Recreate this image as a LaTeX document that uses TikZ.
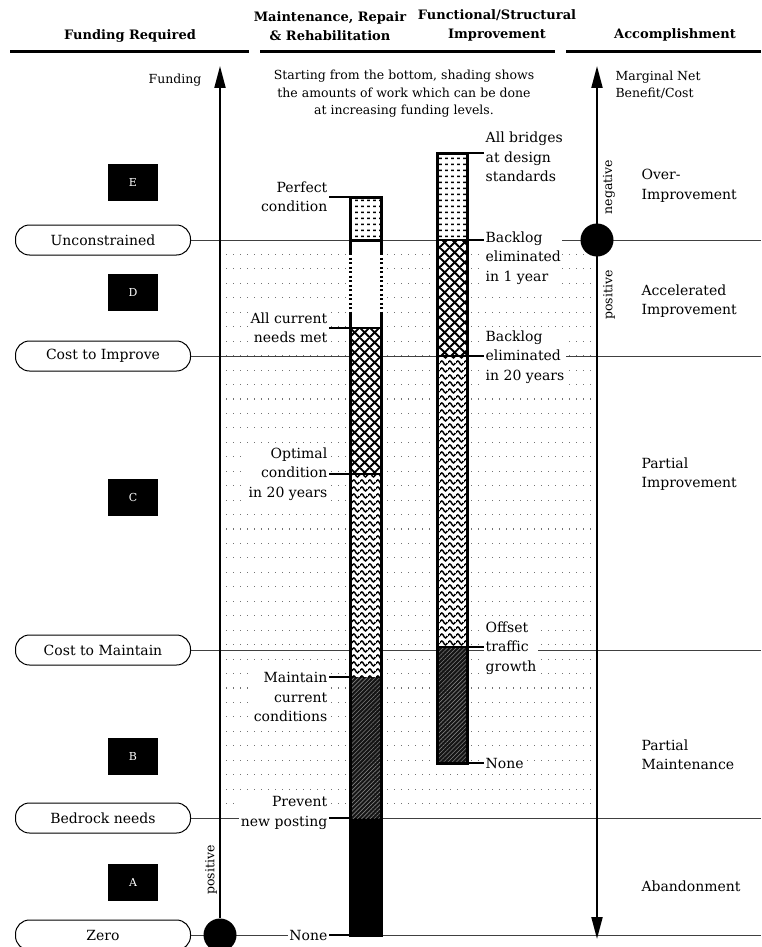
\documentclass[tikz,border=0pt]{standalone}
\usepackage{fontspec}
\setmainfont{DejaVu Serif}
\usetikzlibrary{calc, positioning}
\usetikzlibrary{arrows.meta}
\usetikzlibrary{patterns, patterns.meta}

\newcommand\lbfont{\fontsize{14}{19.5}\selectfont}
\newcommand\smfont{\fontsize{12.5}{17.5}\selectfont}
\newcommand\hdfont{\fontsize{13}{19}\selectfont\bfseries}

\tikzdeclarepattern{
  name=wavy,
  type=uncolored,
  bottom left={(0pt,0pt)},
  top right={(8pt,7pt)},
  tile size={(8pt,7pt)},
  code={
    \draw[line width=1.6pt] (0pt,3.5pt) sin (2pt,5.8pt) cos (4pt,3.5pt) sin (6pt,1.2pt) cos (8pt,3.5pt);
  }
}
\tikzdeclarepattern{
  name=xhatch,
  type=uncolored,
  bottom left={(0pt,0pt)},
  top right={(10pt,10pt)},
  tile size={(10pt,10pt)},
  code={
    \draw[line width=2pt] (-1pt,-1pt) -- (11pt,11pt) (-1pt,11pt) -- (11pt,-1pt);
  }
}
\tikzdeclarepattern{
  name=bardots,
  type=uncolored,
  bottom left={(0pt,0pt)},
  top right={(6pt,6pt)},
  tile size={(6pt,6pt)},
  code={
    \fill (1.4pt,2.2pt) rectangle (4.4pt,3.8pt);
  }
}

\tikzset{
  >={Triangle[length=22pt,width=11pt]},
  rule/.style={line width=3pt},
  level/.style={black!75, line width=1pt},
  grid/.style={black!55, line width=1.1pt, dash pattern=on 1.1pt off 5.9pt},
  pill/.style={draw, rounded corners=14pt, minimum width=175pt, minimum height=30pt, font=\lbfont, fill=white, line width=1pt},
  lvl/.style={fill=black, text=white, minimum width=50pt, minimum height=37pt, font=\fontsize{11}{12}\selectfont},
  dot/.style={circle, fill=black, minimum size=33pt, inner sep=0pt},
  axis/.style={line width=2pt},
  lbl/.style={font=\lbfont, fill=white, inner sep=1.5pt},
  side/.style={font=\lbfont, align=left, anchor=west},
  bar/.style={line width=3pt},
  lead/.style={line width=2.5pt},
  dotf/.style={preaction={fill=white}, pattern=bardots},
  xh/.style={preaction={fill=white}, pattern=xhatch},
  wav/.style={preaction={fill=white}, pattern=wavy},
  darkh/.style={fill=black!92, postaction={pattern={Lines[angle=45,distance=3pt,line width=0.6pt]}, pattern color=black!50}}
}

\begin{document}
\begin{tikzpicture}[x=1pt, y=-1pt, line join=miter]
\useasboundingbox (0,0) rectangle (761,947);
\def\ax{350}
\def\bx{381}
\def\cx{437}
\def\dx{467}

\node[font=\hdfont] (hfund) at (130,36) {Funding Required};
\node[font=\hdfont, align=center] (hmrr) at (330,26) {Maintenance, Repair\\\& Rehabilitation};
\node[font=\hdfont, align=center] (hfsi) at (497,25) {Functional/Structural\\Improvement};
\node[font=\hdfont] (hacc) at (675,35) {Accomplishment};
\draw[rule] (10,52) -- (249,52);
\draw[rule] (260,52) -- (555,52);
\draw[rule] (566,52) -- (761,52);

\node[font=\smfont, anchor=east] (fund) at (205,80) {Funding};
\node[font=\smfont, align=center] (note) at (404,94) {Starting from the bottom, shading shows\\the amounts of work which can be done\\at increasing funding levels.};
\node[font=\smfont, align=left, anchor=west] (mnb) at (612,85) {Marginal Net\\Benefit/Cost};

\foreach \k in {1,...,39}
  \draw[grid] (226,{240+14.45*\k}) -- (595,{240+14.45*\k});

\node[pill] (zero) at (103,935) {Zero};
\node[pill] (bed) at (103,818) {Bedrock needs};
\node[pill] (cmain) at (103,650) {Cost to Maintain};
\node[pill] (cimp) at (103,356) {Cost to Improve};
\node[pill] (uncon) at (103,240) {Unconstrained};
\coordinate (zR) at (761,935);
\coordinate (bR) at (761,818);
\coordinate (mR) at (761,650);
\coordinate (iR) at (761,356);
\coordinate (uR) at (761,240);
\draw[level] (zero) -- (zR);
\draw[level] (bed) -- (bR);
\draw[level] (cmain) -- (mR);
\draw[level] (cimp) -- (iR);
\draw[level] (uncon) -- (uR);

\node[lvl] (lE) at (133,182) {E};
\node[lvl] (lD) at (133,292) {D};
\node[lvl] (lC) at (133,497) {C};
\node[lvl] (lB) at (133,756) {B};
\node[lvl] (lA) at (133,882) {A};

\node[dot] (o1) at (220,935) {};
\coordinate (ltop) at (220,66);
\coordinate (rtop) at (597,66);
\coordinate (rbot) at (597,939);
\draw[axis, ->] (o1) -- (ltop);
\draw[axis, <->] (rtop) -- (rbot);
\node[dot] (o2) at (597,240) {};
\node[font=\smfont, rotate=90] (pos1) at (211,870) {positive};
\node[font=\smfont, rotate=90] (neg2) at (609,187) {negative};
\node[font=\smfont, rotate=90] (pos2) at (609,295) {positive};

\fill[black] (\ax,818) rectangle (\bx,935);
\fill[darkh] (\ax,677) rectangle (\bx,818);
\fill[wav] (\ax,474) rectangle (\bx,677);
\fill[xh] (\ax,328) rectangle (\bx,474);
\fill[white] (\ax,240) rectangle (\bx,328);
\fill[dotf] (\ax,197) rectangle (\bx,240);
\draw[bar] (\ax,328) -- (\ax,935) -- (\bx,935) -- (\bx,328);
\draw[bar] (\ax,313) -- (\ax,328) (\bx,313) -- (\bx,328);
\draw[bar, dash pattern=on 2pt off 2.5pt] (\ax,253) -- (\ax,313) (\bx,253) -- (\bx,313);
\draw[bar] (\ax,253) -- (\ax,197) -- (\bx,197) -- (\bx,253);
\draw[bar] (\ax,240) -- (\bx,240);

\fill[dotf] (\cx,153) rectangle (\dx,240);
\fill[xh] (\cx,240) rectangle (\dx,356);
\fill[wav] (\cx,356) rectangle (\dx,647);
\fill[darkh] (\cx,647) rectangle (\dx,763);
\draw[bar] (\cx,153) rectangle (\dx,763);

\node[lbl, align=right, anchor=east] (perf) at (329,197) {Perfect\\condition};
\node[lbl, align=right, anchor=east] (acn) at (329,328) {All current\\needs met};
\node[lbl, align=right, anchor=east] (opt) at (329,474) {Optimal\\condition\\in 20 years};
\node[lbl, align=right, anchor=east] (mcc) at (329,697) {Maintain\\current\\conditions};
\node[lbl, align=right, anchor=east] (pnp) at (329,813) {Prevent\\new posting};
\node[lbl, align=right, anchor=east] (none1) at (329,935) {None};
\coordinate (p1) at (\bx,197);
\coordinate (p2) at (\bx,328);
\coordinate (p3) at (\bx,474);
\coordinate (p4) at (\ax,677);
\coordinate (p5) at (\ax,818);
\coordinate (p6) at (\ax,935);
\draw[lead] (perf.east) -- (p1);
\draw[lead] (acn.east) -- (p2);
\draw[lead] (opt.east) -- (p3);
\draw[lead] (mcc.east |- p4) -- (p4);
\draw[lead] (pnp.east |- p5) -- (p5);
\draw[lead] (none1.east) -- (p6);

\node[lbl, align=left, anchor=west] (abd) at (484,157) {All bridges\\at design\\standards};
\node[lbl, align=left, anchor=west] (be1) at (484,258) {Backlog\\eliminated\\in 1 year};
\node[lbl, align=left, anchor=west] (be20) at (484,357) {Backlog\\eliminated\\in 20 years};
\node[lbl, align=left, anchor=west] (otg) at (484,648) {Offset\\traffic\\growth};
\node[lbl, align=left, anchor=west] (none2) at (484,763) {None};
\coordinate (q1) at (\cx,153);
\coordinate (q2) at (\cx,240);
\coordinate (q3) at (\cx,356);
\coordinate (q4) at (\cx,647);
\coordinate (q5) at (\dx,763);
\draw[lead] (q1) -- (abd.west |- q1);
\draw[lead] (q2) -- (be1.west |- q2);
\draw[lead] (q3) -- (be20.west |- q3);
\draw[lead] (q4) -- (otg.west |- q4);
\draw[lead] (q5) -- (none2.west);

\node[side] (ovi) at (638,186) {Over-\\Improvement};
\node[side] (aci) at (638,301) {Accelerated\\Improvement};
\node[side] (pai) at (638,474) {Partial\\Improvement};
\node[side] (pam) at (638,755) {Partial\\Maintenance};
\node[side] (aban) at (638,886) {Abandonment};
\end{tikzpicture}
\end{document}
